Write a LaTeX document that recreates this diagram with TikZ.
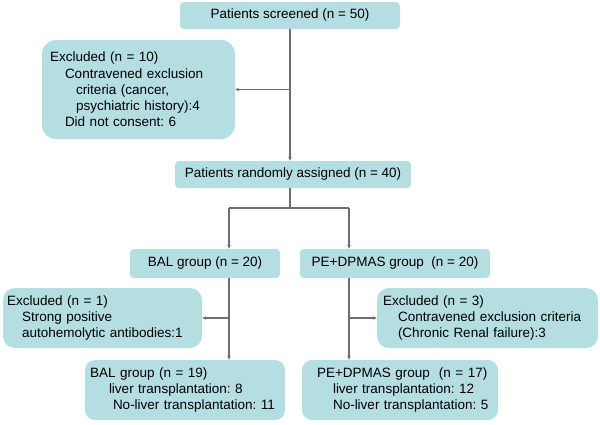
\documentclass[tikz,border=0pt]{standalone}
\usepackage{fontspec}
\setmainfont{Liberation Sans}
\usetikzlibrary{arrows.meta}
\definecolor{boxfill}{HTML}{B4DEE2}
\definecolor{linec}{HTML}{6E6E6E}
\frenchspacing
\hyphenpenalty=10000
\begin{document}
\begin{tikzpicture}[x=1pt,y=-1pt,
 box/.style={fill=boxfill, inner sep=0pt, font=\fontsize{13.5}{16.3}\selectfont},
 one/.style={box, rounded corners=4pt},
 multi/.style={box, rounded corners=#1, align=left},
 conn/.style={draw=linec, line width=1.1pt},
 arr/.style={conn, -{Stealth[length=4pt,width=3.5pt]}}]
\useasboundingbox (0,0) rectangle (600,424);

\node[one, minimum width=220pt, minimum height=27pt] (scr) at (290,15.5) {Patients screened (n = 50)};
\node[multi=14pt, text width=193pt, minimum height=99pt] (exc1) at (138.5,89.5)
 {\hspace*{8pt}Excluded (n = 10)\\\hspace*{23pt}Contravened exclusion\\\hspace*{34pt}criteria (cancer,\\\hspace*{34pt}psychiatric history):4\\\hspace*{23pt}Did not consent: 6};
\node[one, minimum width=236pt, minimum height=27pt] (rand) at (293,174.5) {Patients randomly assigned (n = 40)};
\node[one, minimum width=150pt, minimum height=29pt] (bal) at (205,263.5) {BAL group (n = 20)};
\node[one, minimum width=190pt, minimum height=29pt] (pe) at (395,263.5) {PE+DPMAS group\ \ (n = 20)};
\node[multi=12pt, text width=199pt, minimum height=60pt] (exc2) at (102.5,318)
 {\hspace*{4pt}Excluded (n = 1)\\\hspace*{19pt}Strong positive\\\hspace*{19pt}autohemolytic antibodies:1};
\node[multi=12pt, text width=221pt, minimum height=60pt] (exc3) at (487.5,318)
 {\hspace*{6pt}Excluded (n = 3)\\\hspace*{21pt}Contravened exclusion criteria\\\hspace*{21pt}(Chronic Renal failure):3};
\node[multi=10pt, text width=200pt, minimum height=60pt] (bal19) at (185,390)
 {\hspace*{5pt}BAL group (n = 19)\\\hspace*{24pt}liver transplantation: 8\\\hspace*{28pt}No-liver transplantation: 11};
\node[multi=10pt, text width=196pt, minimum height=60pt] (pe17) at (400,390)
 {\hspace*{15pt}PE+DPMAS group\ \ (n = 17)\\\hspace*{31pt}liver transplantation: 12\\\hspace*{31pt}No-liver transplantation: 5};

\coordinate (sp) at (290,208);
\coordinate (bl) at (229,208);
\coordinate (pl) at (349,208);

\draw[arr] (scr.south) -- (scr.south |- rand.north);
\draw[arr] (scr.south |- exc1.east) -- (exc1.east);
\draw[conn] (rand.south -| sp) -- (sp);
\draw[conn] (bl) -- (pl);
\draw[arr] (bl) -- (bl |- bal.north);
\draw[arr] (pl) -- (pl |- pe.north);
\draw[arr] (bl |- bal.south) -- (bl |- bal19.north);
\draw[arr] (bl |- exc2.east) -- (exc2.east);
\draw[arr] (pl |- pe.south) -- (pl |- pe17.north);
\draw[arr] (pl |- exc3.west) -- (exc3.west);
\end{tikzpicture}
\end{document}
